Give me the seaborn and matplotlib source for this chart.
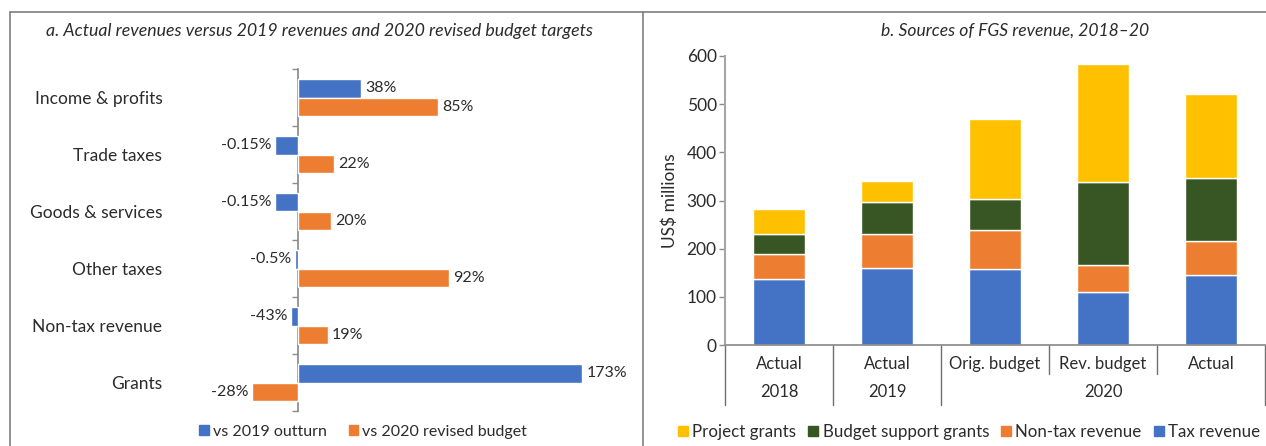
import numpy as np
import pandas as pd
import seaborn as sns
import matplotlib.pyplot as plt
from matplotlib.lines import Line2D
from matplotlib.patches import Patch

# panel a data (bar lengths as drawn, labels as printed)
categories = ["Income & profits", "Trade taxes", "Goods & services",
              "Other taxes", "Non-tax revenue", "Grants"]
vs_2019 = [38, -14, -14, -2, -4.3, 173]
vs_2019_labels = ["38%", "-0.15%", "-0.15%", "-0.5%", "-43%", "173%"]
vs_2020 = [85, 22, 20, 92, 18, -28]
vs_2020_labels = ["85%", "22%", "20%", "92%", "19%", "-28%"]
series_a = ["vs 2019 outturn", "vs 2020 revised budget"]

# panel b data
periods = ["Actual", "Actual", "Orig. budget", "Rev. budget", "Actual"]
years = ["2018", "2019", "2020"]
period_keys = ["a2018", "a2019", "orig2020", "rev2020", "a2020"]
tax_revenue = [137, 160, 158, 111, 145]
nontax_revenue = [52, 70, 81, 55, 71]
budget_support = [41, 67, 64, 172, 131]
project_grants = [52, 43, 166, 245, 174]

BLUE = "#4472C4"
ORANGE = "#ED7D31"
GREEN = "#375623"
YELLOW = "#FFC000"
TXT = "#2b2b2b"
GRID = "#8c8c8c"

sns.set_theme(style="white")
plt.rcParams["font.family"] = ["Lato", "DejaVu Sans"]
plt.rcParams["text.color"] = TXT
plt.rcParams["axes.labelcolor"] = TXT
plt.rcParams["xtick.color"] = TXT
plt.rcParams["ytick.color"] = TXT

W, H = 1266, 446
fig = plt.figure(figsize=(W / 100, H / 100), dpi=100)

# frame lines
for xs, ys in [([10, W], [12, 12]), ([10, 10], [12, H]), ([643, 643], [12, H])]:
    fig.add_artist(Line2D([x / W for x in xs], [1 - y / H for y in ys],
                          transform=fig.transFigure, color="#7f7f7f", lw=1.2))

# ---------- panel a ----------
ax = fig.add_axes([200 / W, 1 - 411 / H, 410 / W, 342 / H])
df_a = pd.DataFrame({
    "category": categories * 2,
    "value": vs_2019 + vs_2020,
    "series": [series_a[0]] * len(categories) + [series_a[1]] * len(categories),
})
sns.barplot(data=df_a, x="value", y="category", hue="series", orient="h",
            palette=[BLUE, ORANGE], saturation=1, width=0.64, legend=False, ax=ax)
ax.bar_label(ax.containers[0], labels=vs_2019_labels, padding=3, fontsize=11.5, color=TXT)
ax.bar_label(ax.containers[1], labels=vs_2020_labels, padding=3, fontsize=11.5, color=TXT)
ax.set_xlim(-60, 190)
ax.set_xticks([])
ax.set_xlabel("")
ax.set_ylabel("")
for s in ["top", "right", "bottom"]:
    ax.spines[s].set_visible(False)
ax.spines["left"].set_position(("data", 0))
ax.spines["left"].set_color(GRID)
ax.spines["left"].set_zorder(0.5)
ax.set_yticks(np.arange(-0.5, len(categories), 1.0), minor=True)
ax.tick_params(axis="y", which="minor", length=4, width=1, color=GRID, left=True)
ax.tick_params(axis="y", which="major", length=0, pad=98, labelsize=12.5)

fig.text(320 / W, 1 - 31 / H,
         "a. Actual revenues versus 2019 revenues and 2020 revised budget targets",
         ha="center", va="center", fontstyle="italic", fontsize=12.8, color=TXT)

fig.legend(handles=[Patch(color=BLUE), Patch(color=ORANGE)], labels=series_a,
           loc="center left", bbox_to_anchor=(199 / W, 1 - 432 / H), ncol=2,
           frameon=False, fontsize=11.5, handlelength=0.6, handleheight=0.6,
           handletextpad=0.25, columnspacing=1.4, borderpad=0, borderaxespad=0)

# ---------- panel b ----------
ax2 = fig.add_axes([725 / W, 1 - 345 / H, 540 / W, 289 / H])
layers = [("Tax revenue", tax_revenue, BLUE),
          ("Non-tax revenue", nontax_revenue, ORANGE),
          ("Budget support grants", budget_support, GREEN),
          ("Project grants", project_grants, YELLOW)]
bottom = np.zeros(len(period_keys))
for name, vals, col in layers:
    sns.barplot(x=period_keys, y=vals, bottom=bottom, color=col, saturation=1,
                width=0.49, ax=ax2, label=name)
    bottom = bottom + np.array(vals)
if ax2.get_legend() is not None:
    ax2.get_legend().remove()

ax2.set_ylim(0, 600)
ax2.set_yticks(range(0, 601, 100))
ax2.set_xlim(-0.5, len(period_keys) - 0.5)
ax2.set_xticks(range(len(period_keys)))
ax2.set_xticklabels(periods)
ax2.tick_params(axis="x", length=0, pad=8, labelsize=12)
ax2.tick_params(axis="y", length=4, width=1, color=GRID, left=True, labelsize=12.5, pad=2)
for s in ["top", "right"]:
    ax2.spines[s].set_visible(False)
ax2.spines["left"].set_color("#a6a6a6")
ax2.spines["left"].set_linewidth(1.5)
ax2.spines["bottom"].set_color(GRID)
ax2.set_ylabel("US$ millions", fontsize=12.5, labelpad=6)
ax2.set_xlabel("")

ax_h = 289.0
trans = ax2.get_xaxis_transform()
for xb, depth in [(-0.5, 60), (0.5, 60), (1.5, 60), (2.5, 29), (3.5, 29), (4.5, 60)]:
    ax2.plot([xb, xb], [0, -depth / ax_h], transform=trans, color="#6f6f6f",
             lw=1, clip_on=False)
for xc, yr in zip([0, 1, 3], years):
    ax2.text(xc, -47 / ax_h, yr, transform=trans, ha="center", va="center",
             fontsize=12, color=TXT)

fig.text(1015 / W, 1 - 31 / H, "b. Sources of FGS revenue, 2018\u201320",
         ha="center", va="center", fontstyle="italic", fontsize=12.6, color=TXT)

leg_names = [n for n, _, _ in layers][::-1]
leg_cols = [c for _, _, c in layers][::-1]
fig.legend(handles=[Patch(color=c) for c in leg_cols], labels=leg_names,
           loc="center left", bbox_to_anchor=(678 / W, 1 - 432 / H), ncol=4,
           frameon=False, fontsize=12.2, handlelength=0.6, handleheight=0.6,
           handletextpad=0.25, columnspacing=0.7, borderpad=0, borderaxespad=0)

fig.savefig("out.png", dpi=100)
